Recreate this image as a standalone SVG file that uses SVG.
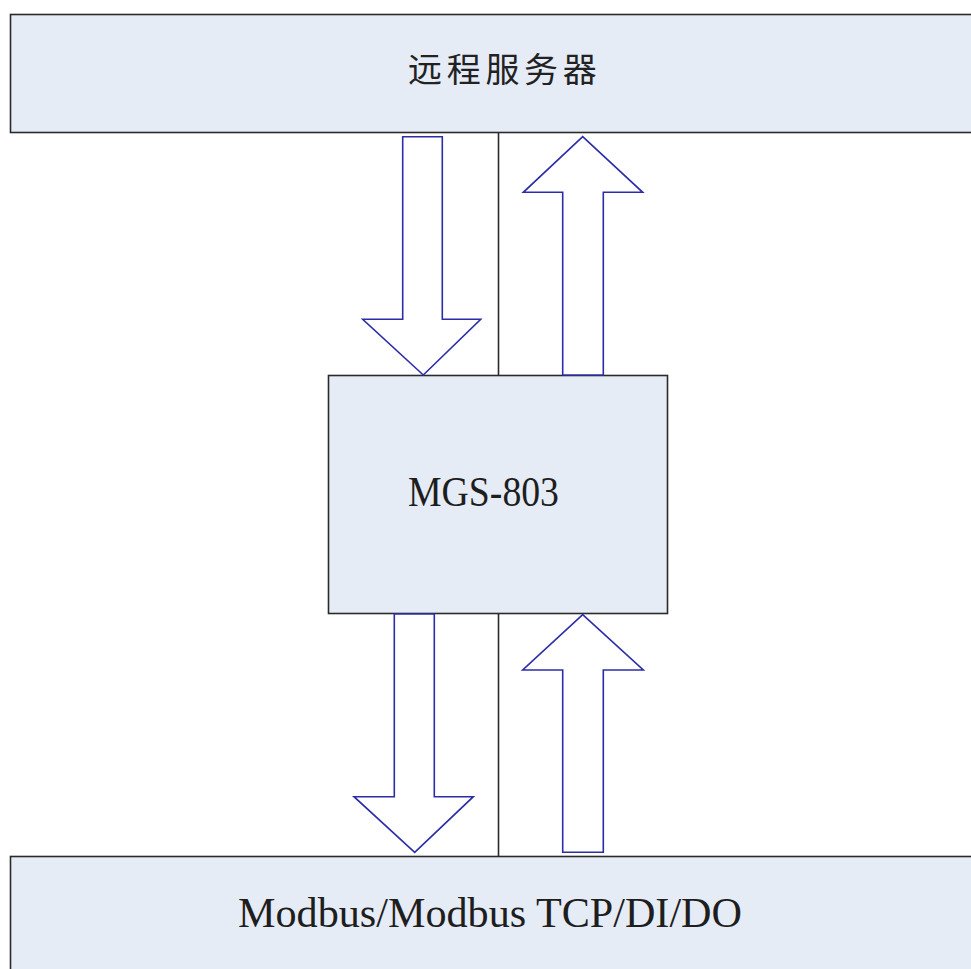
<svg xmlns="http://www.w3.org/2000/svg" width="971" height="969" viewBox="0 0 971 969">
<style>
.box{fill:#e6ecf6;stroke:#2a2a2a;stroke-width:1.6}
.link{stroke:#2a2a2a;stroke-width:1.6;fill:none}
.arrow{fill:#ffffff;stroke:#2c2ca8;stroke-width:1.6;stroke-linejoin:miter}
.lat{font-family:"Liberation Serif",serif;font-size:43px;fill:#1e1e1e}
.cjk{font-family:"Noto Sans CJK SC","Noto Sans",sans-serif;font-size:34px;fill:#222;letter-spacing:4.7px}
</style>
<rect width="971" height="969" fill="#ffffff"/>
<g id="server">
<rect class="box" x="10.5" y="14.5" width="970" height="118"/>
<text class="cjk" x="408" y="82">远程服务器</text>
</g>
<g id="mgs803">
<rect class="box" x="328.5" y="375.5" width="339" height="238"/>
<text class="lat" x="408" y="506" textLength="151" lengthAdjust="spacingAndGlyphs">MGS-803</text>
</g>
<g id="field">
<rect class="box" x="10.5" y="856.5" width="970" height="130"/>
<text class="lat" x="238" y="927" textLength="504" lengthAdjust="spacingAndGlyphs">Modbus/Modbus TCP/DI/DO</text>
</g>
<g id="connectors">
<line class="link" x1="498.5" y1="132.5" x2="498.5" y2="375.5"/>
<line class="link" x1="498.5" y1="613.5" x2="498.5" y2="856.5"/>
<polygon class="arrow" points="402.7,136.7 442.3,136.7 442.3,319.3 480.7,319.3 423.3,375 362.7,319.3 402.7,319.3"/>
<polygon class="arrow" points="582.7,136.7 642.7,192.3 603.3,192.3 603.3,375 562.7,375 562.7,192.3 523.3,192.3"/>
<polygon class="arrow" points="394.3,614 434.3,614 434.3,796.7 473.3,796.7 414.7,852.3 354,796.7 394.3,796.7"/>
<polygon class="arrow" points="582.7,614.7 643.3,670 603.3,670 603.3,852.3 562.7,852.3 562.7,670 522.7,670"/>
</g>
</svg>
